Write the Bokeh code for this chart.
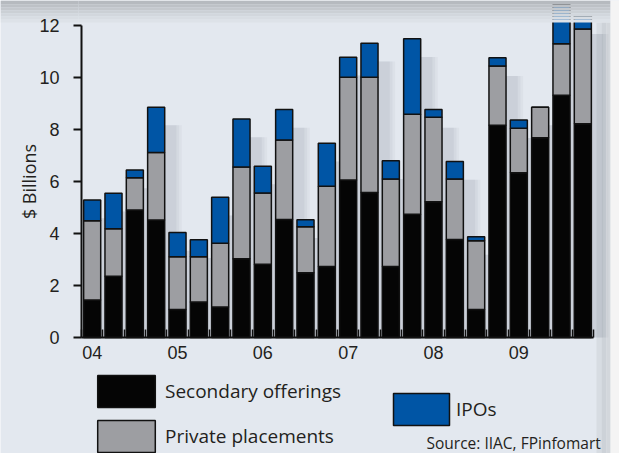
from bokeh.plotting import figure
from bokeh.models import (Range1d, FixedTicker, Legend, LegendItem, BoxAnnotation,
                          Label, ColumnDataSource)
from bokeh.embed import file_html
from bokeh.resources import INLINE

# ---- data (quarterly, 2004 Q1 .. 2009 Q4), $ billions ----
quarters = list(range(24))
year_ticks = [0, 4, 8, 12, 16, 20]
year_labels = ["04", "05", "06", "07", "08", "09"]
secondary = [1.44, 2.36, 4.90, 4.52, 1.08, 1.37, 1.17, 3.03, 2.82, 4.54, 2.49, 2.73,
             6.06, 5.58, 2.73, 4.74, 5.22, 3.77, 1.08, 8.16, 6.34, 7.68, 9.32, 8.22]
private = [3.05, 1.82, 1.24, 2.60, 2.03, 1.74, 2.46, 3.53, 2.74, 3.06, 1.77, 3.09,
           3.95, 4.43, 3.37, 3.85, 3.25, 2.33, 2.64, 2.28, 1.71, 1.18, 1.98, 3.65]
ipos = [0.80, 1.37, 0.30, 1.74, 0.93, 0.65, 1.76, 1.84, 1.03, 1.17, 0.27, 1.65,
        0.77, 1.31, 0.70, 2.90, 0.30, 0.67, 0.16, 0.32, 0.32, 0.00, 1.50, 0.50]
series = ["secondary", "private", "ipos"]
series_labels = ["Secondary offerings", "Private placements", "IPOs"]

BG = "#e3e8ef"
BLACK = "#050505"
GRAY = "#9d9ea2"
BLUE = "#0055a5"
TEXT = "#231f20"
W, H = 619, 453

totals = [a + b + c for a, b, c in zip(secondary, private, ipos)]
src = ColumnDataSource(dict(x=quarters, secondary=secondary, private=private, ipos=ipos,
                            xs=[q + 0.55 for q in quarters],
                            ts=[t - 0.7 for t in totals]))

# frame covers the whole canvas; axes are pinned with fixed_location
p = figure(width=W, height=H, output_backend="svg", toolbar_location=None, title=None,
           x_range=Range1d(-4.297, 24.719), y_range=Range1d(-4.4615, 12.962),
           min_border=0, background_fill_color=BG, border_fill_color=BG,
           outline_line_color=None)
p.xgrid.visible = False
p.ygrid.visible = False

# soft drop shadows behind the bars
for w, a in [(1.3, 0.05), (1.05, 0.06), (0.8, 0.07)]:
    p.vbar(x="xs", top="ts", bottom=0, width=w, source=src, fill_color="#5a6672",
           fill_alpha=a, line_color=None)

rs = p.vbar_stack(series, x="x", width=0.8, source=src,
                  fill_color=[BLACK, GRAY, BLUE], line_color="#111111", line_width=1.5)

# axes
xa = p.xaxis[0]
xa.fixed_location = 0
xa.bounds = (-0.5, 23.5)
xa.ticker = FixedTicker(ticks=year_ticks, minor_ticks=[i + 0.5 for i in range(-1, 24)])
xa.major_label_overrides = {t: l for t, l in zip(year_ticks, year_labels)}
xa.major_tick_in = 0
xa.major_tick_out = 0
xa.minor_tick_in = 8
xa.minor_tick_out = 0
xa.minor_tick_line_width = 1.5
xa.minor_tick_line_color = "#111111"
xa.axis_line_width = 2
xa.axis_line_color = "#111111"
xa.major_label_text_font = "Liberation Sans"
xa.major_label_text_font_size = "18px"
xa.major_label_text_color = TEXT
xa.major_label_standoff = 8

ya = p.yaxis[0]
ya.fixed_location = -0.5
ya.ticker = FixedTicker(ticks=[0, 2, 4, 6, 8, 10, 12])
ya.bounds = (0, 12)
ya.major_tick_in = 0
ya.major_tick_out = 8
ya.minor_tick_in = 0
ya.minor_tick_out = 0
ya.major_tick_line_width = 2
ya.major_tick_line_color = "#111111"
ya.axis_line_width = 2
ya.axis_line_color = "#111111"
ya.major_label_text_font = "Liberation Sans"
ya.major_label_text_font_size = "18px"
ya.major_label_text_color = TEXT
ya.major_label_standoff = 14
ya.axis_label = "$ Billions"
ya.axis_label_text_font = "Open Sans"
ya.axis_label_text_font_style = "normal"
ya.axis_label_text_font_size = "18px"
ya.axis_label_text_color = TEXT
ya.axis_label_standoff = -5


def sbox(x0, x1, y0, y1, color, level="underlay"):
    """Box given in canvas pixels (y measured from the top)."""
    p.add_layout(BoxAnnotation(left=x0, right=x1, top=H - y0, bottom=H - y1,
                               left_units="screen", right_units="screen",
                               top_units="screen", bottom_units="screen",
                               fill_color=color, fill_alpha=1, line_color=None,
                               level=level))


# background decorations: top shaded band (over the bars), right-hand strip
for y0, y1, c in [(0, 4, "#b6babf"), (4, 7, "#bdc1c6"), (7, 10, "#c4c8cd"),
                  (10, 13, "#cbd0d5"), (13, 16, "#d2d7dd"), (16, 19, "#d8dde3"),
                  (19, 22, "#dde2e8")]:
    sbox(0, 78, y0, y1, c, level="underlay")
    sbox(78, 610, y0, y1, c, level="annotation")
for x0, x1, c in [(596, 601, "#d7dce2"), (601, 606, "#cdd2d8"), (606, 610, "#d3d7dc")]:
    sbox(x0, x1, 22, H, c)
sbox(610, W, 0, H, "#f4f4f4", level="annotation")

# legends (frame == canvas, so locations are canvas px from bottom-left)
leg1 = Legend(items=[LegendItem(label=series_labels[0], renderers=[rs[0]]),
                     LegendItem(label=series_labels[1], renderers=[rs[1]])],
              location=(90, H - 456), orientation="vertical")
leg2 = Legend(items=[LegendItem(label=series_labels[2], renderers=[rs[2]])],
              location=(386, H - 429), orientation="vertical")
for lg, gw, st in [(leg1, 72, 3), (leg2, 70, 0)]:
    lg.padding = 0
    lg.margin = 0
    lg.spacing = 5
    lg.glyph_width = gw
    lg.glyph_height = 40
    lg.label_standoff = st
    lg.label_text_font = "Open Sans"
    lg.label_text_font_size = "19px"
    lg.label_text_color = TEXT
    lg.background_fill_alpha = 0
    lg.border_line_color = None
    p.add_layout(lg)

p.add_layout(Label(x=426, y=H - 442, x_units="screen", y_units="screen",
                   text="Source: IIAC, FPinfomart", text_font="Open Sans",
                   text_font_size="15.5px", text_color=TEXT, text_baseline="alphabetic"))

open("out.html", "w").write(file_html(p, INLINE))
